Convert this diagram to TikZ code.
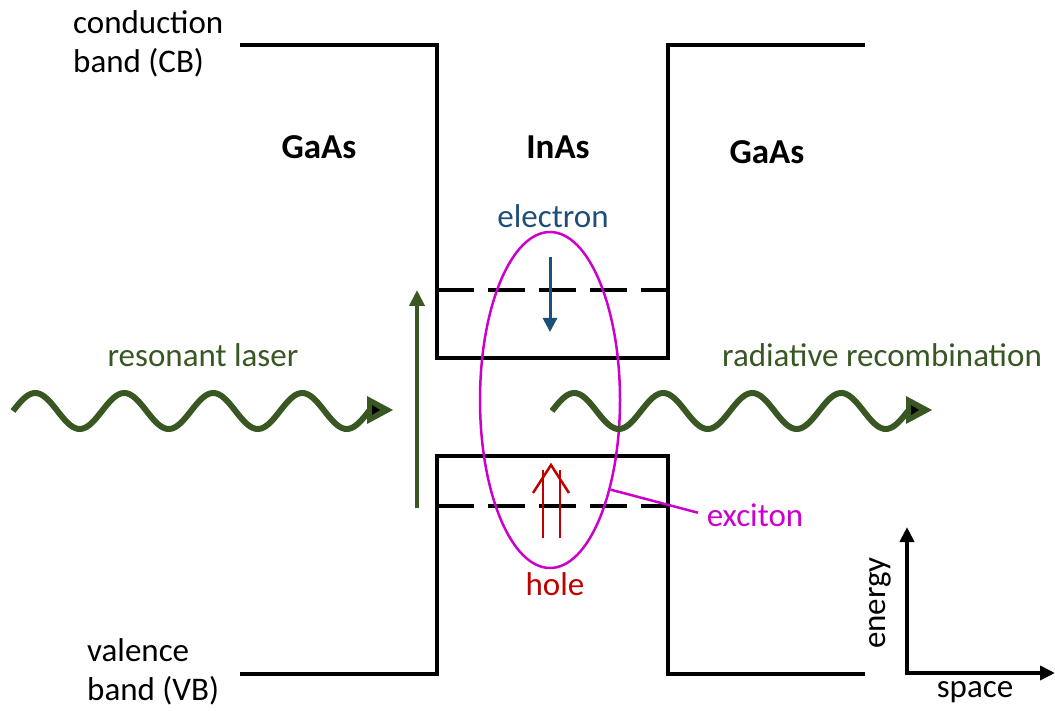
\documentclass[tikz,border=0pt]{standalone}
\usepackage{fontspec}
\setmainfont{Carlito}
\usetikzlibrary{arrows.meta,shapes.geometric}
\definecolor{dgreen}{HTML}{385723}
\definecolor{eblue}{HTML}{1F4E79}
\definecolor{hred}{HTML}{C00000}
\definecolor{mag}{HTML}{CC00CC}
\begin{document}
\begin{tikzpicture}[x=1pt,y=-1pt,
  band/.style={line width=4pt, line join=miter},
  level/.style={line width=3.5pt, dash pattern=on 37pt off 14pt},
  lbl/.style={font=\fontsize{33}{39.5}\selectfont, inner sep=0pt, align=left},
  mat/.style={font=\fontsize{35}{42}\selectfont\bfseries, inner sep=0pt},
  wave/.style={dgreen, line width=6pt, line cap=butt},
  whead/.style={fill=dgreen},
]
\useasboundingbox (0,0) rectangle (1055,711);

% conduction band
\draw[band] (240,45) -- (437,45) -- (437,358) -- (668,358) -- (668,45) -- (865,45);
% valence band
\draw[band] (240,674) -- (437,674) -- (437,456) -- (668,456) -- (668,674) -- (865,674);
% confined levels
\draw[level] (437,290) -- (668,290);
\draw[level] (437,506) -- (668,506);

% labels
\node[lbl, anchor=west] (cb) at (73,44) {conduction\\band (CB)};
\node[lbl, anchor=west] (vb) at (87,672) {valence\\band (VB)};
\node[mat] (g1) at (319,147) {GaAs};
\node[mat] (in) at (558,147) {InAs};
\node[mat] (g2) at (767,152) {GaAs};

% electron
\node[lbl, text=eblue] (el) at (553,216) {electron};
\coordinate (e1) at (550,257);
\coordinate (e2) at (550,332);
\draw[eblue, line width=3pt, -{Triangle[length=14pt,width=14pt]}] (e1) -- (e2);

% hole
\node[lbl, text=hred] (hl) at (555,584) {hole};
\draw[hred, line width=2.5pt] (543,538) -- (543,470);
\draw[hred, line width=2.5pt] (560,538) -- (560,470);
\draw[hred, line width=2.5pt, line join=miter] (533,493) -- (551,465) -- (569,493);

% exciton
\node[draw=mag, line width=2.5pt, ellipse, minimum width=140pt, minimum height=336pt, inner sep=0pt] (exc) at (550,400) {};
\node[lbl, text=mag] (exl) at (755,515) {exciton};
\draw[mag, line width=2.5pt, shorten >=9pt] (exc.-56) -- (exl.west);

% resonant laser
\node[lbl, text=dgreen] (rl) at (203,355) {resonant laser};
\draw[wave] plot[domain=0:1440, samples=160, smooth] ({13+\x/360*89}, {411-18*sin(\x)});
\fill[whead] (367,396) -- (393,410) -- (367,424) -- cycle;
\fill[black] (372,405) -- (380,410) -- (372,415) -- cycle;

% radiative recombination
\node[lbl, text=dgreen] (rr) at (882,355) {radiative recombination};
\draw[wave] plot[domain=0:1440, samples=160, smooth] ({552+\x/360*89}, {411-18*sin(\x)});
\fill[whead] (906,396) -- (932,410) -- (906,424) -- cycle;
\fill[black] (911,405) -- (919,410) -- (911,415) -- cycle;

% pump arrow
\coordinate (p1) at (417,508);
\coordinate (p2) at (417,290);
\draw[dgreen, line width=4pt, -{Triangle[length=16pt,width=15pt]}] (p1) -- (p2);

% axes
\coordinate (ax0) at (907,673);
\coordinate (axy) at (907,527);
\coordinate (axx) at (1055,673);
\draw[line width=4pt, {Triangle[length=15pt,width=14pt]}-{Triangle[length=15pt,width=14pt]}, line join=miter] (axy) -- (ax0) -- (axx);
\node[lbl, rotate=90] (en) at (880,603) {energy};
\node[lbl] (sp) at (975,692) {space};
\end{tikzpicture}
\end{document}
